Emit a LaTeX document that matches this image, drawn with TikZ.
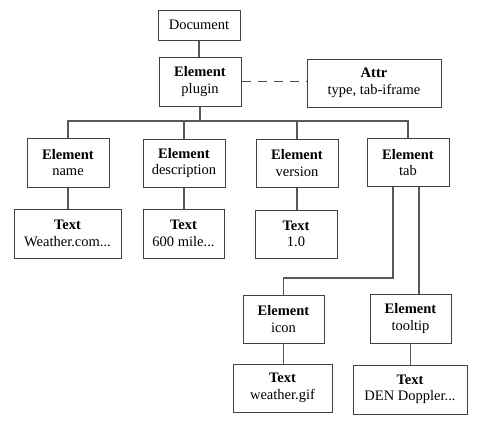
\documentclass[tikz,border=0pt]{standalone}
\usepackage{fontspec}
\setmainfont{Liberation Serif}
\begin{document}
\begin{tikzpicture}[x=1pt,y=-1pt,
  box/.style={draw=black!75,line width=1pt,fill=white,inner sep=0pt,align=center,
    font=\fontsize{14.5}{16.5}\selectfont},
  link/.style={draw=black!65,line width=1.3pt},
  attrlink/.style={draw=black!70,line width=1pt,dash pattern=on 9pt off 7pt}]
\useasboundingbox (0,0) rectangle (480,432);
\fill[white] (0,0) rectangle (480,432);
% nodes
\node[box,minimum width=82pt,minimum height=30pt] (doc) at (199,25) {Document};
\node[box,minimum width=82pt,minimum height=49pt] (plugin) at (200,81.5) {\textbf{Element}\\plugin};
\node[box,minimum width=134pt,minimum height=48pt] (attr) at (374,83) {\textbf{Attr}\\type, tab-iframe};
\node[box,minimum width=82pt,minimum height=49pt] (name) at (68,162.5) {\textbf{Element}\\name};
\node[box,minimum width=82pt,minimum height=48pt] (desc) at (184,163) {\textbf{Element}\\description};
\node[box,minimum width=82pt,minimum height=48pt] (ver) at (297,163) {\textbf{Element}\\version};
\node[box,minimum width=82pt,minimum height=48pt] (tab) at (408,162.5) {\textbf{Element}\\tab};
\node[box,minimum width=107pt,minimum height=49pt] (tname) at (67.5,233.5) {\textbf{Text}\\Weather.com...};
\node[box,minimum width=81pt,minimum height=49pt] (tdesc) at (183.5,233.5) {\textbf{Text}\\600 mile...};
\node[box,minimum width=82pt,minimum height=48pt] (tver) at (296,234) {\textbf{Text}\\1.0};
\node[box,minimum width=81pt,minimum height=48pt] (icon) at (283.5,319) {\textbf{Element}\\icon};
\node[box,minimum width=81pt,minimum height=49pt] (tooltip) at (410.5,318.5) {\textbf{Element}\\tooltip};
\node[box,minimum width=99pt,minimum height=48pt] (ticon) at (282.5,388) {\textbf{Text}\\weather.gif};
\node[box,minimum width=114pt,minimum height=49pt] (ttip) at (410,389.5) {\textbf{Text}\\DEN Doppler...};
\coordinate (bus) at (0,121);
\coordinate (elbow) at (0,278);
% connectors
\draw[link] (doc.south) -- (doc.south |- plugin.north);
\draw[attrlink] (plugin.east) -- (attr.west |- plugin.east);
\draw[link] (plugin.south) -- (plugin.south |- bus);
\draw[link] (name.north) -- (name.north |- bus) -- (tab.north |- bus) -- (tab.north);
\draw[link] (desc.north) -- (desc.north |- bus);
\draw[link] (ver.north) -- (ver.north |- bus);
\draw[link] (name.south) -- (name.south |- tname.north);
\draw[link] (desc.south) -- (desc.south |- tdesc.north);
\draw[link] (ver.south) -- (ver.south |- tver.north);
\draw[link] ([xshift=-15pt]tab.south) -- ([xshift=-15pt]tab.south |- elbow) -| (icon.north);
\draw[link] ([xshift=11pt]tab.south) -- ([xshift=11pt]tab.south |- tooltip.north);
\draw[link] (icon.south) -- (icon.south |- ticon.north);
\draw[link] (tooltip.south) -- (tooltip.south |- ttip.north);
\end{tikzpicture}
\end{document}
